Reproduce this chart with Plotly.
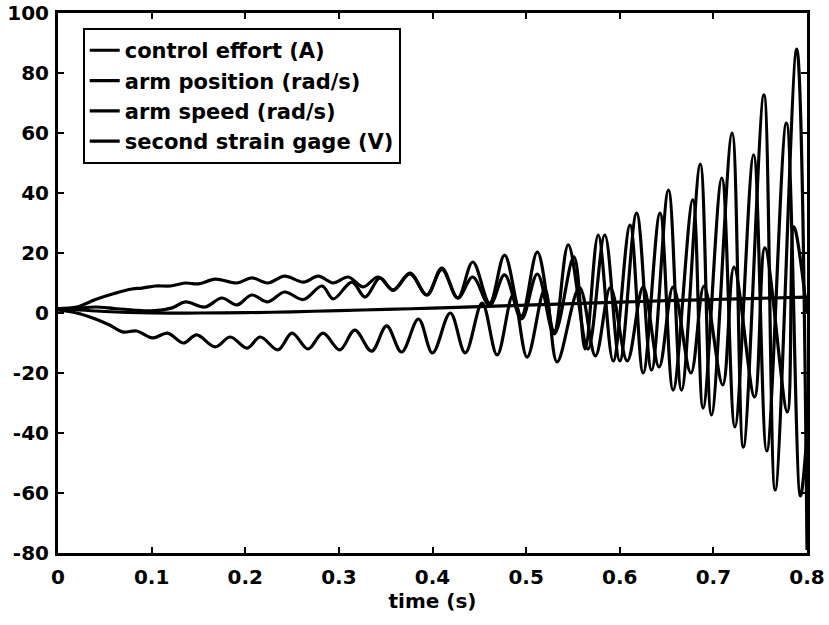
import plotly.graph_objects as go

# ---- data ----
# control effort (A) : upper oscillating curve
t_effort = [0, 0.02, 0.04, 0.06, 0.079, 0.09, 0.104, 0.12, 0.136, 0.15, 0.168, 0.191, 0.207,
            0.224, 0.242, 0.262, 0.278, 0.294, 0.310, 0.326, 0.342, 0.358, 0.376, 0.394, 0.410,
            0.427, 0.443, 0.461, 0.477, 0.495, 0.512, 0.530, 0.545, 0.566, 0.584, 0.600, 0.618,
            0.634, 0.652, 0.666, 0.686, 0.698, 0.720, 0.732, 0.754, 0.766, 0.789, 0.800]
v_effort = [1.5, 2, 4.5, 6.5, 8, 8.3, 9, 9, 10, 9.7, 11.3, 10, 11.7,
            10, 12.3, 10.3, 12.3, 10, 12, 8.7, 12, 7.7, 13.3, 6, 15,
            5, 17, 3.3, 19.3, -1, 20.3, -6, 22.7, -12, 26, -16, 33.3,
            -19, 41, -25.7, 49.6, -34, 60, -44.7, 72.7, -59, 88, -79]

# arm position (rad/s) : slowly rising, almost flat line
t_position = [0, 0.05, 0.1, 0.15, 0.2, 0.25, 0.3, 0.35, 0.4, 0.45, 0.5, 0.55, 0.6, 0.65, 0.7, 0.75, 0.8]
v_position = [1.5, 0.5, 0, 0, 0.1, 0.4, 0.8, 1.2, 1.6, 2.1, 2.6, 3.1, 3.6, 4.1, 4.5, 4.9, 5.3]

# arm speed (rad/s) : middle oscillating curve
t_speed = [0, 0.02, 0.04, 0.06, 0.08, 0.1, 0.122, 0.136, 0.157, 0.175, 0.191, 0.207, 0.224,
           0.242, 0.262, 0.282, 0.294, 0.314, 0.328, 0.344, 0.358, 0.376, 0.394, 0.410, 0.427,
           0.443, 0.461, 0.477, 0.495, 0.512, 0.530, 0.551, 0.563, 0.577, 0.593, 0.611, 0.625,
           0.643, 0.657, 0.678, 0.689, 0.709, 0.723, 0.743, 0.757, 0.778, 0.793, 0.800]
v_speed = [1, 1.5, 2, 1.5, 1, 0.7, 1.7, 3.7, 2, 5, 2.7, 6, 3.7,
           7, 4.5, 9, 4.7, 10.3, 5.3, 11.7, 7.5, 13, 6, 14.5, 5,
           12, 2.5, 12.7, -2, 13, -7, 18.7, -12, 26, -16, 29.3, -20,
           33.3, -25.7, 37.7, -31.7, 45, -38, 52.7, -46, 63.3, -61, -40]

# second strain gage (V) : lower oscillating curve
t_strain = [0, 0.02, 0.04, 0.055, 0.069, 0.084, 0.101, 0.117, 0.134, 0.148, 0.168, 0.184, 0.202,
            0.216, 0.235, 0.250, 0.267, 0.283, 0.301, 0.317, 0.335, 0.351, 0.367, 0.385, 0.400,
            0.419, 0.435, 0.453, 0.469, 0.486, 0.501, 0.520, 0.533, 0.557, 0.574, 0.590, 0.608,
            0.625, 0.642, 0.657, 0.676, 0.690, 0.710, 0.722, 0.744, 0.755, 0.779, 0.786, 0.800]
v_strain = [1, 0, -2, -4, -6.3, -6, -8.3, -6.7, -10, -7.3, -11.3, -8, -11.7,
            -8, -12.3, -6.7, -12, -6.7, -12.3, -5.7, -12.7, -4.3, -13, -2, -13.3,
            0, -13.3, 3.3, -14, 6, -14.7, 8, -16.3, 8.5, -14.3, 8.5, -16,
            8.7, -18, 8.7, -20, 9, -24, 15.3, -28, 21.7, -33, 28.7, 0]

series = [
    ("control effort (A)", t_effort, v_effort),
    ("arm position (rad/s)", t_position, v_position),
    ("arm speed (rad/s)", t_speed, v_speed),
    ("second strain gage (V)", t_strain, v_strain),
]

x_ticks = [0, 0.1, 0.2, 0.3, 0.4, 0.5, 0.6, 0.7, 0.8]
x_labels = ["0", "0.1", "0.2", "0.3", "0.4", "0.5", "0.6", "0.7", "0.8"]
y_ticks = [-80, -60, -40, -20, 0, 20, 40, 60, 80, 100]
y_labels = ["-80", "-60", "-40", "-20", "0", "20", "40", "60", "80", "100"]

FONT = dict(family="DejaVu Sans", size=20, color="black", weight="bold")
LEGEND_FONT = dict(family="DejaVu Sans", size=21, color="black", weight="bold")

fig = go.Figure()
for name, t, v in series:
    fig.add_trace(go.Scatter(
        x=t, y=v, name=name, mode="lines",
        line=dict(color="black", width=3.2, shape="spline", smoothing=1.0),
    ))

axis_common = dict(
    showline=True, linecolor="black", linewidth=3, mirror="allticks",
    ticks="inside", ticklen=6, tickwidth=2, tickcolor="black",
    showgrid=False, zeroline=False, tickfont=FONT, automargin=False,
)

fig.update_layout(
    width=829, height=625,
    margin=dict(l=58, r=22, t=13, b=72),
    paper_bgcolor="white", plot_bgcolor="white",
    font=FONT,
    xaxis=dict(range=[0, 0.8], tickvals=x_ticks, ticktext=x_labels,
               title=dict(text="time (s)", font=FONT, standoff=6),
               ticklabelstandoff=4, **axis_common),
    yaxis=dict(range=[-80, 100], tickvals=y_ticks, ticktext=y_labels,
               ticklabelstandoff=2, **axis_common),
    showlegend=True,
    legend=dict(x=0.033, y=0.972, xanchor="left", yanchor="top",
                bgcolor="white", bordercolor="black", borderwidth=2,
                font=LEGEND_FONT, tracegroupgap=0),
)

fig.write_html("out.html")
